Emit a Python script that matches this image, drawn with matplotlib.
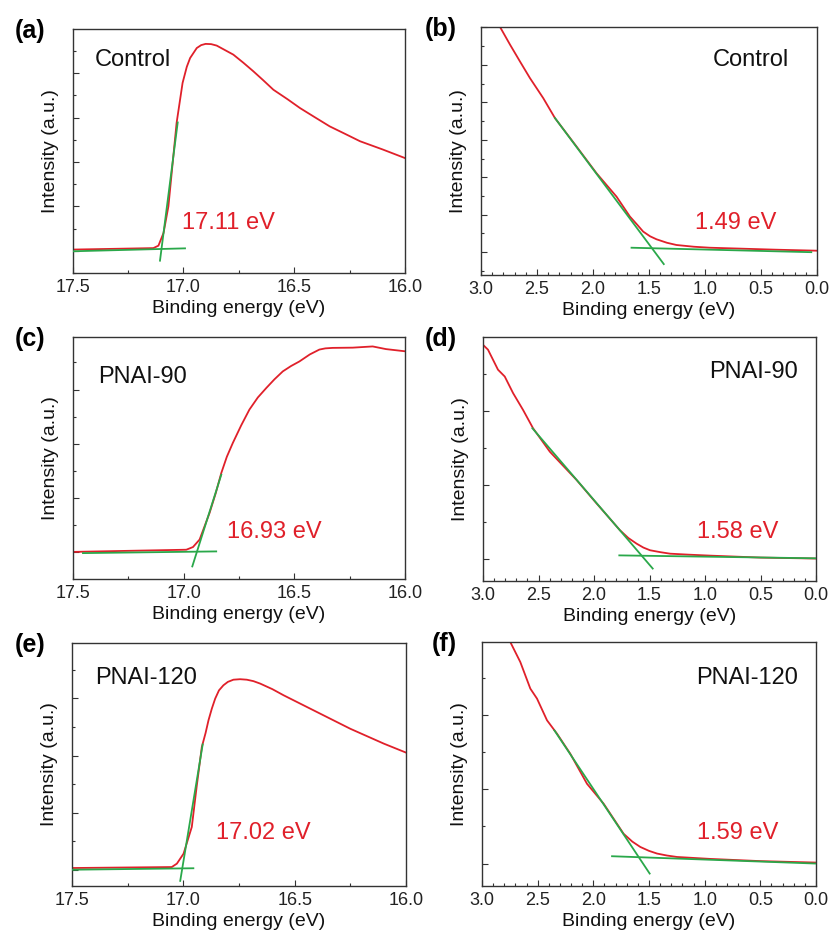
import matplotlib
matplotlib.use("Agg")
from matplotlib import pyplot as plt
from matplotlib.ticker import MultipleLocator, NullFormatter

plt.rcParams['font.family'] = ['Liberation Sans', 'DejaVu Sans']

RED = '#e0202a'
GREEN = '#2aa84a'

# ---- secondary electron cutoff (left column), x in eV, y in % of axis height
a_x = [17.5, 17.136, 17.113, 17.09, 17.068, 17.031, 17.004, 16.985, 16.97, 16.94,
       16.92, 16.90, 16.875, 16.85, 16.775, 16.73, 16.685, 16.64, 16.594, 16.53,
       16.474, 16.41, 16.34, 16.27, 16.203, 16.1, 16.0]
a_y = [9.6, 10.2, 11.2, 16.4, 27.3, 61.5, 77.9, 84.5, 88.1, 92.2,
       93.4, 93.9, 93.8, 93.2, 89.5, 86.2, 82.7, 79.0, 75.1, 71.2,
       67.6, 64.0, 60.1, 57.0, 54.0, 50.6, 47.1]
a_base = ([17.5, 16.993], [8.9, 10.1])
a_edge = ([17.106, 17.026], [5.05, 61.7])

c_x = [17.5, 16.988, 16.958, 16.928, 16.883, 16.855, 16.83, 16.805, 16.778, 16.74,
       16.703, 16.665, 16.627, 16.59, 16.552, 16.515, 16.477, 16.43, 16.387, 16.36,
       16.327, 16.236, 16.146, 16.086, 16.0]
c_y = [11.2, 12.1, 13.2, 16.3, 27.3, 35.5, 43.8, 50.5, 56.2, 63.5,
       70.0, 75.0, 78.9, 82.5, 85.8, 88.0, 89.9, 92.8, 94.8, 95.3,
       95.5, 95.6, 96.1, 95.0, 94.1]
c_base = ([17.455, 16.853], [10.7, 11.4])
c_edge = ([16.961, 16.83], [5.2, 43.1])

e_x = [17.5, 17.052, 17.029, 16.999, 16.962, 16.94, 16.917, 16.9, 16.887, 16.872,
       16.857, 16.84, 16.82, 16.8, 16.775, 16.745, 16.715, 16.685, 16.655, 16.6,
       16.55, 16.4, 16.25, 16.1, 16.0]
e_y = [7.4, 7.8, 9.2, 13.3, 24.3, 41.0, 57.2, 63.0, 68.2, 73.0,
       77.1, 80.5, 82.6, 84.0, 84.9, 85.1, 84.9, 84.3, 83.3, 81.0,
       78.5, 71.6, 64.7, 58.6, 54.9]
e_base = ([17.5, 16.955], [6.7, 7.3])
e_edge = ([17.014, 16.913], [2.1, 58.3])

# ---- valence band edge (right column)
b_x = [2.83, 2.741, 2.652, 2.563, 2.444, 2.34, 2.147, 1.968, 1.79, 1.671,
       1.60, 1.552, 1.49, 1.433, 1.34, 1.255, 1.1, 0.957, 0.66, 0.363, 0.0]
b_y = [100, 92.9, 86.1, 79.4, 71.3, 63.3, 51.8, 41.0, 31.6, 23.6,
       20.0, 17.5, 15.6, 14.4, 13.0, 12.1, 11.4, 11.0, 10.6, 10.2, 9.8]
b_base = ([1.656, 0.051], [11.0, 9.2])
b_edge = ([2.34, 1.368], [63.3, 4.4])

d_x = [3.0, 2.955, 2.865, 2.804, 2.729, 2.639, 2.549, 2.398, 2.157, 1.977,
       1.766, 1.69, 1.616, 1.555, 1.495, 1.40, 1.315, 1.15, 0.954, 0.503, 0.0]
d_y = [96.8, 94.8, 86.6, 83.8, 77.0, 70.1, 62.6, 53.0, 41.4, 31.8,
       20.8, 17.6, 15.3, 13.7, 12.6, 11.8, 11.2, 10.8, 10.4, 9.6, 9.2]
d_base = ([1.772, 0.0], [10.5, 9.3])
d_edge = ([2.555, 1.471], [62.6, 5.1])

f_x = [2.746, 2.656, 2.566, 2.506, 2.416, 2.326, 2.207, 2.057, 1.907, 1.728,
       1.65, 1.578, 1.50, 1.428, 1.34, 1.249, 1.1, 0.949, 0.5, 0.0]
f_y = [100, 91.8, 80.9, 76.8, 67.9, 62.4, 54.2, 41.9, 33.7, 21.4,
       18.2, 16.0, 14.4, 13.3, 12.5, 11.9, 11.5, 11.1, 10.2, 9.6]
f_base = ([1.832, 0.0], [12.2, 9.2])
f_edge = ([2.35, 1.494], [63.8, 5.1])

letters = ['(a)', '(b)', '(c)', '(d)', '(e)', '(f)']
samples = ['Control', 'Control', 'PNAI-90', 'PNAI-90', 'PNAI-120', 'PNAI-120']
values = ['17.11 eV', '1.49 eV', '16.93 eV', '1.58 eV', '17.02 eV', '1.59 eV']

panels = [
    (a_x, a_y, a_base, a_edge),
    (b_x, b_y, b_base, b_edge),
    (c_x, c_y, c_base, c_edge),
    (d_x, d_y, d_base, d_edge),
    (e_x, e_y, e_base, e_edge),
    (f_x, f_y, f_base, f_edge),
]

# axes boxes in figure pixels: left, top, right, bottom
W, H = 832, 938
boxes = [(72.7, 29, 405, 273), (481, 27, 817, 275),
         (73, 337, 405, 579), (483, 337, 816, 581),
         (72, 643, 406, 886), (482, 642, 816, 886)]
# y tick spacing / offset (in % of axis height)
yticks = [(18.2, 9.1), (15.1, 9.2), (22.4, 11.1), (30.3, 9.2), (23.5, 6.7), (30.4, 9.2)]
sample_pos = [(0.067, 0.872, 'left'), (0.917, 0.866, 'right'),
              (0.075, 0.834, 'left'), (0.946, 0.856, 'right'),
              (0.069, 0.855, 'left'), (0.946, 0.852, 'right')]
value_pos = [(0.329, 0.205), (0.637, 0.21), (0.464, 0.194),
             (0.643, 0.201), (0.431, 0.218), (0.644, 0.217)]

fig = plt.figure(figsize=(W / 100, H / 100), dpi=100)

for i, (x, y, base, edge) in enumerate(panels):
    l, t, r, b = boxes[i]
    ax = fig.add_axes([l / W, 1 - b / H, (r - l) / W, (b - t) / H])
    ax.plot(x, y, color=RED, lw=1.3, zorder=2)
    # fitted tangent lines sit on top of the spectrum
    ax.plot(base[0], base[1], color=GREEN, lw=1.3, zorder=3)
    ax.plot(edge[0], edge[1], color=GREEN, lw=1.3, zorder=3)
    ax.set_ylim(0, 100)
    if i % 2 == 0:
        ax.set_xlim(17.5, 16.0)
        ax.xaxis.set_major_locator(MultipleLocator(0.5))
        ax.xaxis.set_minor_locator(MultipleLocator(0.25))
    else:
        ax.set_xlim(3.0, 0.0)
        ax.xaxis.set_major_locator(MultipleLocator(0.5))
        ax.xaxis.set_minor_locator(MultipleLocator(0.1))
    step, off = yticks[i]
    ax.yaxis.set_major_locator(MultipleLocator(step, offset=off))
    ax.yaxis.set_minor_locator(MultipleLocator(step / 2, offset=off))
    ax.yaxis.set_major_formatter(NullFormatter())
    ax.tick_params(which='both', direction='in', top=False, right=False,
                   color='#333333', width=0.8)
    ax.tick_params(which='major', length=4, labelsize=13, pad=4,
                   labelcolor='#222222')
    ax.tick_params(which='minor', length=2)
    for s in ax.spines.values():
        s.set_color('#333333')
        s.set_linewidth(1.0)
    ax.set_xlabel('Binding energy (eV)', fontsize=14, labelpad=3, color='#111111')
    ax.set_ylabel('Intensity (a.u.)', fontsize=14, labelpad=6, color='#111111')

    sx, sy, ha = sample_pos[i]
    ax.text(sx, sy, samples[i], transform=ax.transAxes, fontsize=17,
            ha=ha, va='center', color='#111111')
    vx, vy = value_pos[i]
    ax.text(vx, vy, values[i], transform=ax.transAxes, fontsize=17,
            ha='left', va='center', color=RED)

    lx = 45.5 if i % 2 == 0 else 457
    fig.text(lx / W, 1 - (t + 2) / H, letters[i], fontsize=18,
             fontweight='bold', ha='right', va='center')

fig.savefig('out.png', dpi=100)
